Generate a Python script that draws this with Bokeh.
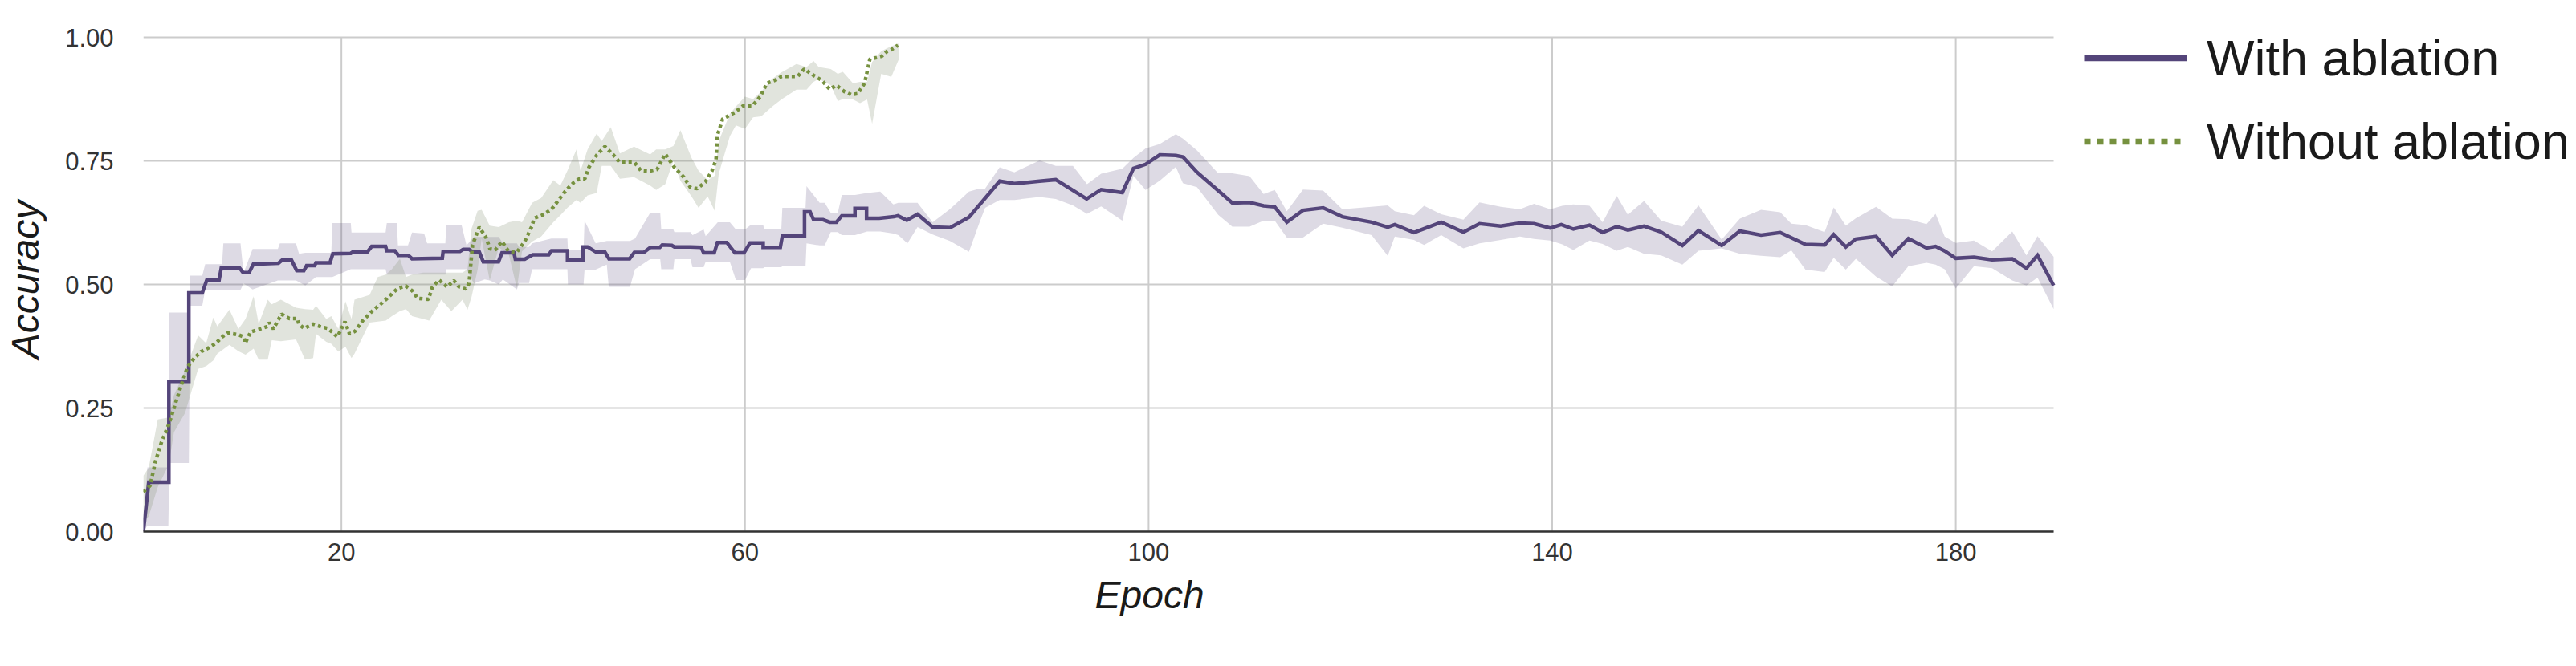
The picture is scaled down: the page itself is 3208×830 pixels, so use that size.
from bokeh.plotting import figure
from bokeh.models import Range1d, FixedTicker, Legend, LegendItem, NumeralTickFormatter, Title
from bokeh.embed import file_html
from bokeh.resources import INLINE

# ---------------- data ----------------
series_names = ["With ablation", "Without ablation"]
x_ticks = [20, 60, 100, 140, 180]
y_ticks = [0, 0.25, 0.5, 0.75, 1.0]

# With ablation: mean curve (epoch, accuracy)
with_x = [0.37, 0.91, 2.90, 2.90, 4.88, 4.88, 6.21, 6.66, 7.88, 8.09, 9.92, 10.26, 10.85, 11.27,
          13.76, 14.16, 15.04, 15.57, 16.28, 16.55, 17.35, 17.48, 18.87, 19.15, 20.93, 21.15,
          22.58, 23.0, 24.38, 24.5, 25.3, 25.65, 26.63, 27.0, 30.0, 30.08, 31.75, 32.07, 32.65,
          33.0, 33.66, 34.06, 35.57, 35.91, 37.1, 37.24, 38.17, 38.96, 40.55, 40.82, 42.41,
          42.41, 43.95, 43.95, 44.4, 45.2, 46.1, 46.52, 48.56, 49.04, 49.97, 50.63, 51.56, 51.8,
          52.75, 53.0, 54.6, 55.66, 55.9, 56.95, 57.27, 58.2, 59.0, 59.9, 60.5, 61.8, 61.8, 63.5,
          63.7, 65.9, 65.9, 66.45, 66.8, 67.73, 68.4, 69.06, 69.59, 70.9, 70.9, 72.05, 72.05,
          73.3, 74.76, 75.16, 76.04, 77.1, 78.6, 80.33, 82.2, 85.24, 86.7, 89.2, 90.8, 93.86,
          95.3, 97.4, 98.5, 99.7, 101.1, 102.7, 103.4, 104.8, 108.3, 110.0, 111.4, 112.5, 113.7,
          115.3, 117.3, 119.2, 122.1, 123.7, 124.4, 126.3, 129.0, 131.2, 132.8, 134.9, 136.8,
          138.2, 139.8, 140.9, 142.1, 143.7, 145.0, 146.4, 147.5, 149.1, 150.8, 152.9, 154.5,
          156.8, 158.6, 160.7, 162.6, 165.1, 167.0, 167.9, 169.1, 170.1, 172.1, 173.7, 175.3,
          177.1, 178.0, 178.9, 180.0, 181.8, 183.6, 185.6, 187.0, 188.1, 189.7]
with_y = [0.0, 0.10, 0.10, 0.304, 0.304, 0.483, 0.483, 0.509, 0.509, 0.533, 0.533, 0.524, 0.524,
          0.541, 0.543, 0.550, 0.550, 0.528, 0.528, 0.538, 0.538, 0.544, 0.544, 0.562, 0.563,
          0.566, 0.566, 0.577, 0.577, 0.568, 0.568, 0.559, 0.559, 0.552, 0.553, 0.567, 0.567,
          0.571, 0.571, 0.566, 0.566, 0.546, 0.546, 0.564, 0.564, 0.551, 0.551, 0.560, 0.560,
          0.568, 0.568, 0.550, 0.550, 0.576, 0.576, 0.566, 0.566, 0.552, 0.552, 0.565, 0.565,
          0.575, 0.575, 0.580, 0.579, 0.576, 0.576, 0.575, 0.564, 0.564, 0.585, 0.585, 0.564,
          0.564, 0.584, 0.584, 0.575, 0.575, 0.598, 0.598, 0.647, 0.647, 0.631, 0.631, 0.626,
          0.626, 0.639, 0.639, 0.654, 0.654, 0.634, 0.634, 0.637, 0.639, 0.630, 0.642, 0.616,
          0.615, 0.636, 0.709, 0.704, 0.709, 0.712, 0.673, 0.692, 0.686, 0.735, 0.743, 0.762,
          0.761, 0.758, 0.727, 0.665, 0.666, 0.659, 0.657, 0.626, 0.650, 0.655, 0.637, 0.626,
          0.616, 0.621, 0.605, 0.626, 0.606, 0.623, 0.618, 0.624, 0.623, 0.614, 0.621, 0.612,
          0.620, 0.605, 0.617, 0.610, 0.618, 0.606, 0.579, 0.609, 0.579, 0.608, 0.600, 0.605,
          0.581, 0.580, 0.601, 0.576, 0.592, 0.597, 0.559, 0.593, 0.574, 0.577, 0.568, 0.553,
          0.555, 0.550, 0.552, 0.533, 0.559, 0.498]

# With ablation: spread band (epoch, lower, upper)
with_band_x = [0.37, 0.77, 2.85, 2.95, 4.88, 5.0, 6.21, 6.5, 8.17, 8.3, 10.0, 10.3, 11.2, 13.7,
               13.9, 15.5, 15.8, 16.42, 17.48, 19.0, 19.1, 20.93, 21.0, 24.38, 24.5, 25.5, 25.6,
               26.6, 27.0, 28.2, 28.5, 30.3, 30.4, 31.9, 32.4, 33.13, 34.2, 34.7, 35.6, 36.0,
               37.4, 37.6, 38.6, 38.9, 40.8, 42.4, 42.45, 44.0, 44.1, 45.2, 46.3, 46.5, 48.6,
               49.1, 50.6, 51.6, 51.7, 52.9, 53.0, 54.6, 54.8, 55.9, 56.1, 57.3, 58.5, 59.1,
               60.0, 60.6, 61.8, 61.9, 63.6, 63.7, 66.0, 66.1, 67.4, 67.9, 68.5, 69.2, 69.6,
               70.9, 72.1, 73.4, 74.7, 75.2, 76.1, 77.1, 78.6, 80.3, 82.2, 83.25, 83.8, 85.24,
               86.7, 89.2, 90.8, 92.5, 93.9, 95.3, 97.4, 98.5, 99.7, 101.1, 102.7, 103.4, 104.8,
               106.9, 108.3, 110.0, 111.4, 112.5, 113.7, 115.3, 117.3, 119.2, 122.1, 123.7,
               124.4, 126.3, 127.3, 129.0, 131.2, 132.8, 134.9, 136.8, 138.2, 139.8, 141.0,
               142.1, 143.7, 145.0, 146.4, 147.5, 149.1, 150.8, 152.9, 154.5, 156.8, 158.6,
               160.7, 162.6, 163.7, 165.1, 167.0, 167.9, 169.1, 170.1, 172.1, 173.7, 175.3,
               177.1, 178.0, 178.9, 180.0, 181.8, 183.6, 185.6, 187.0, 188.1, 189.7]
with_band_lo = [0.0, 0.012, 0.012, 0.139, 0.139, 0.457, 0.457, 0.489, 0.489, 0.489, 0.489, 0.502,
                0.490, 0.508, 0.508, 0.508, 0.505, 0.498, 0.515, 0.515, 0.515, 0.531, 0.531,
                0.531, 0.520, 0.520, 0.520, 0.520, 0.520, 0.520, 0.520, 0.520, 0.531, 0.531,
                0.531, 0.502, 0.510, 0.508, 0.500, 0.510, 0.490, 0.503, 0.503, 0.531, 0.531,
                0.531, 0.500, 0.500, 0.530, 0.530, 0.540, 0.495, 0.495, 0.531, 0.551, 0.551,
                0.531, 0.531, 0.551, 0.551, 0.535, 0.535, 0.546, 0.546, 0.546, 0.509, 0.509,
                0.533, 0.533, 0.535, 0.535, 0.537, 0.537, 0.583, 0.579, 0.579, 0.606, 0.606,
                0.600, 0.600, 0.607, 0.607, 0.603, 0.600, 0.583, 0.616, 0.601, 0.588, 0.566,
                0.626, 0.655, 0.671, 0.671, 0.677, 0.673, 0.660, 0.643, 0.658, 0.629, 0.720,
                0.691, 0.710, 0.738, 0.705, 0.697, 0.641, 0.617, 0.617, 0.629, 0.629, 0.595,
                0.595, 0.623, 0.615, 0.600, 0.558, 0.597, 0.590, 0.580, 0.600, 0.573, 0.583,
                0.590, 0.597, 0.592, 0.589, 0.581, 0.570, 0.589, 0.582, 0.568, 0.576, 0.562,
                0.559, 0.540, 0.568, 0.573, 0.562, 0.558, 0.555, 0.569, 0.530, 0.525, 0.554,
                0.530, 0.552, 0.516, 0.496, 0.537, 0.544, 0.540, 0.531, 0.492, 0.537, 0.533,
                0.508, 0.498, 0.514, 0.450]
with_band_hi = [0.0, 0.130, 0.130, 0.443, 0.443, 0.518, 0.518, 0.541, 0.541, 0.583, 0.583, 0.523,
                0.572, 0.572, 0.583, 0.583, 0.562, 0.564, 0.564, 0.564, 0.624, 0.624, 0.605,
                0.605, 0.624, 0.624, 0.579, 0.579, 0.605, 0.603, 0.583, 0.583, 0.621, 0.621,
                0.579, 0.596, 0.596, 0.596, 0.596, 0.583, 0.583, 0.576, 0.576, 0.583, 0.593,
                0.593, 0.570, 0.570, 0.629, 0.583, 0.588, 0.588, 0.588, 0.593, 0.645, 0.645,
                0.611, 0.611, 0.606, 0.606, 0.600, 0.611, 0.598, 0.626, 0.626, 0.611, 0.611,
                0.621, 0.621, 0.611, 0.611, 0.655, 0.655, 0.699, 0.665, 0.665, 0.645, 0.645,
                0.681, 0.681, 0.685, 0.688, 0.662, 0.665, 0.665, 0.665, 0.626, 0.652, 0.688,
                0.694, 0.694, 0.737, 0.727, 0.751, 0.740, 0.740, 0.703, 0.724, 0.734, 0.756,
                0.775, 0.784, 0.804, 0.795, 0.771, 0.725, 0.725, 0.719, 0.683, 0.691, 0.648,
                0.692, 0.690, 0.652, 0.657, 0.660, 0.648, 0.640, 0.659, 0.642, 0.631, 0.666,
                0.657, 0.652, 0.663, 0.652, 0.659, 0.662, 0.659, 0.626, 0.679, 0.641, 0.669,
                0.629, 0.617, 0.660, 0.591, 0.633, 0.651, 0.646, 0.623, 0.620, 0.606, 0.656,
                0.619, 0.634, 0.657, 0.633, 0.632, 0.622, 0.643, 0.597, 0.584, 0.589, 0.567,
                0.607, 0.559, 0.598, 0.556]

# Without ablation: mean curve
without_x = [0.37, 1.04, 1.57, 2.23, 2.9, 3.56, 4.22, 4.75, 5.42, 6.08, 6.88, 7.54, 8.2, 8.74,
             9.8, 10.33, 10.46, 11.0, 11.8, 12.7, 12.86, 13.26, 14.05, 14.85, 15.65, 15.78,
             16.3, 17.2, 17.88, 18.67, 19.6, 20.35, 20.8, 21.33, 22.12, 23.05, 24.38, 25.57,
             26.37, 27.03, 27.56, 28.63, 29.02, 29.68, 30.48, 31.14, 31.67, 32.33, 32.65, 33.0,
             33.66, 34.32, 34.72, 35.25, 35.91, 36.57, 37.37, 38.17, 38.91, 39.1, 39.89, 40.82,
             41.61, 42.28, 43.07, 43.6, 44.13, 44.53, 45.32, 46.12, 46.91, 47.58, 48.37, 49.04,
             49.7, 50.5, 51.29, 52.1, 53.0, 53.94, 54.6, 55.27, 56.06, 56.73, 57.13, 57.27,
             57.79, 59.0, 59.78, 60.71, 61.51, 62.17, 63.1, 63.63, 65.22, 65.88, 66.8, 67.6,
             68.4, 69.06, 69.86, 70.52, 71.18, 71.85, 72.38, 73.04, 73.57, 74.1, 74.5, 75.16]
without_y = [0.080, 0.093, 0.142, 0.185, 0.217, 0.260, 0.302, 0.333, 0.351, 0.364, 0.372, 0.381,
             0.394, 0.402, 0.398, 0.394, 0.381, 0.404, 0.409, 0.415, 0.423, 0.410, 0.440,
             0.431, 0.431, 0.420, 0.411, 0.420, 0.415, 0.411, 0.394, 0.425, 0.400, 0.405,
             0.427, 0.446, 0.469, 0.492, 0.497, 0.487, 0.472, 0.470, 0.495, 0.509, 0.495,
             0.508, 0.495, 0.491, 0.502, 0.580, 0.616, 0.596, 0.572, 0.570, 0.587, 0.567,
             0.565, 0.587, 0.619, 0.634, 0.640, 0.652, 0.673, 0.691, 0.707, 0.714, 0.714,
             0.737, 0.762, 0.779, 0.763, 0.747, 0.747, 0.747, 0.730, 0.729, 0.733, 0.764,
             0.737, 0.717, 0.696, 0.694, 0.707, 0.730, 0.753, 0.802, 0.835, 0.848, 0.861,
             0.861, 0.880, 0.907, 0.914, 0.921, 0.921, 0.936, 0.923, 0.913, 0.895, 0.903,
             0.890, 0.884, 0.886, 0.907, 0.956, 0.959, 0.962, 0.972, 0.975, 0.984]

# Without ablation: spread band
without_band_x = [0.37, 0.9, 1.8, 2.9, 3.4, 4.5, 5.8, 6.6, 7.3, 7.7, 8.9, 9.8, 10.5, 11.3, 11.8,
                  12.7, 13.1, 14.0, 15.5, 16.4, 17.2, 17.48, 18.5, 19.0, 19.7, 20.4, 21.0, 21.3,
                  22.8, 23.6, 24.4, 25.0, 25.8, 26.4, 27.0, 28.1, 28.7, 29.9, 30.9, 32.0, 32.5,
                  32.9, 33.5, 33.9, 34.7, 35.6, 36.6, 37.4, 37.9, 38.9, 39.8, 41.0, 41.7, 42.4,
                  43.3, 43.7, 44.4, 45.3, 45.8, 46.7, 47.6, 49.0, 50.6, 51.2, 52.1, 52.9, 53.6,
                  54.7, 55.4, 56.3, 57.0, 57.4, 58.5, 59.1, 60.0, 60.8, 61.6, 62.7, 63.6, 65.1,
                  66.1, 66.8, 67.3, 68.5, 69.2, 69.7, 70.7, 71.4, 72.1, 72.6, 73.5, 74.5, 75.3]
without_band_lo = [0.020, 0.031, 0.090, 0.136, 0.201, 0.240, 0.329, 0.335, 0.346, 0.360, 0.378,
                   0.365, 0.358, 0.370, 0.348, 0.348, 0.387, 0.385, 0.389, 0.348, 0.351, 0.400,
                   0.384, 0.380, 0.364, 0.374, 0.351, 0.360, 0.423, 0.425, 0.427, 0.436, 0.446,
                   0.450, 0.436, 0.430, 0.427, 0.469, 0.446, 0.469, 0.449, 0.475, 0.530, 0.593,
                   0.508, 0.575, 0.560, 0.492, 0.567, 0.587, 0.597, 0.626, 0.640, 0.655, 0.671,
                   0.665, 0.680, 0.685, 0.740, 0.740, 0.714, 0.717, 0.700, 0.691, 0.703, 0.750,
                   0.710, 0.678, 0.655, 0.678, 0.649, 0.724, 0.800, 0.822, 0.815, 0.838, 0.840,
                   0.860, 0.874, 0.894, 0.894, 0.910, 0.916, 0.903, 0.871, 0.875, 0.874, 0.867,
                   0.874, 0.825, 0.926, 0.920, 0.958, 0.969]
without_band_hi = [0.113, 0.129, 0.227, 0.231, 0.276, 0.325, 0.397, 0.381, 0.433, 0.415, 0.449,
                   0.410, 0.430, 0.476, 0.420, 0.469, 0.460, 0.469, 0.453, 0.450, 0.449, 0.457,
                   0.430, 0.436, 0.410, 0.466, 0.430, 0.469, 0.479, 0.515, 0.520, 0.531, 0.552,
                   0.515, 0.520, 0.524, 0.524, 0.524, 0.524, 0.524, 0.531, 0.613, 0.649, 0.651,
                   0.619, 0.616, 0.626, 0.629, 0.626, 0.665, 0.675, 0.711, 0.700, 0.730, 0.773,
                   0.730, 0.773, 0.805, 0.790, 0.818, 0.765, 0.779, 0.763, 0.773, 0.773, 0.780,
                   0.812, 0.756, 0.730, 0.711, 0.720, 0.790, 0.845, 0.860, 0.880, 0.875, 0.890,
                   0.916, 0.929, 0.946, 0.940, 0.952, 0.940, 0.936, 0.926, 0.930, 0.907, 0.910,
                   0.910, 0.950, 0.972, 0.982, 0.988, 0.998]

# ---------------- style / layout ----------------
PURPLE = "#54457a"
GREEN = "#76913f"
GREEN_BAND = "#808f70"
FONT = "Liberation Sans"
NAN = float("nan")

W, H = 3206, 828
FRAME_LEFT, FRAME_TOP, FRAME_BOTTOM = 178, 34, 662
PLOT_TOP = 46                          # pixel row of accuracy = 1.0
PLOT_RIGHT = 2557                      # right edge of the visible plotting area
X0, X1 = 0.37, 189.7                   # epoch span of the visible plotting area
px_per_epoch = (PLOT_RIGHT - FRAME_LEFT) / (X1 - X0)
x_frame_end = X0 + (W - FRAME_LEFT) / px_per_epoch      # frame extends under the legend
y_frame_end = 1.0 + (PLOT_TOP - FRAME_TOP) / (FRAME_BOTTOM - PLOT_TOP)

p = figure(width=W, height=H, output_backend="svg", toolbar_location=None,
           x_range=Range1d(X0, x_frame_end), y_range=Range1d(0, y_frame_end),
           min_border_left=FRAME_LEFT, min_border_right=0, min_border_top=FRAME_TOP,
           min_border_bottom=H - FRAME_BOTTOM)
p.outline_line_color = None
p.background_fill_color = "white"
p.border_fill_color = "white"

# grid lines limited to the plotting area
p.xgrid.visible = False
p.ygrid.visible = False
p.segment(x0=[X0] * len(y_ticks), x1=[X1] * len(y_ticks), y0=y_ticks, y1=y_ticks,
          line_color="#cccccc", line_width=2)
p.segment(x0=x_ticks, x1=x_ticks, y0=[0] * len(x_ticks), y1=[1.0] * len(x_ticks),
          line_color="#cccccc", line_width=2)

p.varea(x=with_band_x, y1=with_band_lo, y2=with_band_hi,
        fill_color=PURPLE, fill_alpha=0.2)
p.varea(x=without_band_x, y1=without_band_lo, y2=without_band_hi,
        fill_color=GREEN_BAND, fill_alpha=0.24)
p.line(with_x, with_y, line_color=PURPLE, line_width=4.5, line_join="miter")
p.line(without_x, without_y, line_color=GREEN, line_width=4.5, line_dash="4 4")

# axes
p.xaxis.ticker = FixedTicker(ticks=x_ticks)
p.yaxis.ticker = FixedTicker(ticks=y_ticks)
p.yaxis.formatter = NumeralTickFormatter(format="0.00")
p.xaxis.bounds = (X0, X1)
p.yaxis.bounds = (0, 1)
p.yaxis.axis_label = "Accuracy"
for ax in (p.xaxis, p.yaxis):
    ax.major_tick_line_color = None
    ax.minor_tick_line_color = None
    ax.major_tick_out = 0
    ax.major_tick_in = 0
    ax.major_label_text_font = FONT
    ax.major_label_text_font_size = "31px"
    ax.major_label_text_color = "#333333"
    ax.axis_label_text_font = FONT
    ax.axis_label_text_font_size = "48px"
    ax.axis_label_text_font_style = "italic"
    ax.axis_label_text_color = "#1a1a1a"
p.yaxis.axis_line_color = None
p.xaxis.axis_line_color = "#333333"
p.xaxis.axis_line_width = 2.5
p.yaxis.major_label_standoff = 37
p.xaxis.major_label_standoff = 14
p.yaxis.axis_label_standoff = 20

# x-axis title (centred under epoch ~100 as in the original)
xtitle = Title(text="Epoch", align="left", offset=1185, standoff=23,
               text_font=FONT, text_font_size="48px", text_font_style="italic",
               text_color="#1a1a1a")
p.add_layout(xtitle, "below")

# legend swatches (single undefined point each: only the swatch is drawn)
leg1 = p.line(x=[NAN], y=[NAN], line_color=PURPLE, line_width=7.5)
leg2 = p.line(x=[NAN], y=[NAN], line_color=GREEN, line_width=7.5, line_dash="8 8")

LEG_LEFT, LEG_TOP, LEG_H = 2595, 32, 184
legend = Legend(items=[LegendItem(label=series_names[0], renderers=[leg1]),
                       LegendItem(label=series_names[1], renderers=[leg2])],
                location=(LEG_LEFT - FRAME_LEFT, FRAME_BOTTOM - LEG_TOP - LEG_H),
                orientation="vertical",
                glyph_width=128, glyph_height=80, label_height=80,
                label_standoff=25, spacing=24, padding=0, margin=0,
                border_line_color=None, background_fill_alpha=0,
                label_text_font_size="63px", label_text_font=FONT,
                label_text_color="#1a1a1a")
p.add_layout(legend)

open("out.html", "w").write(file_html(p, INLINE))
